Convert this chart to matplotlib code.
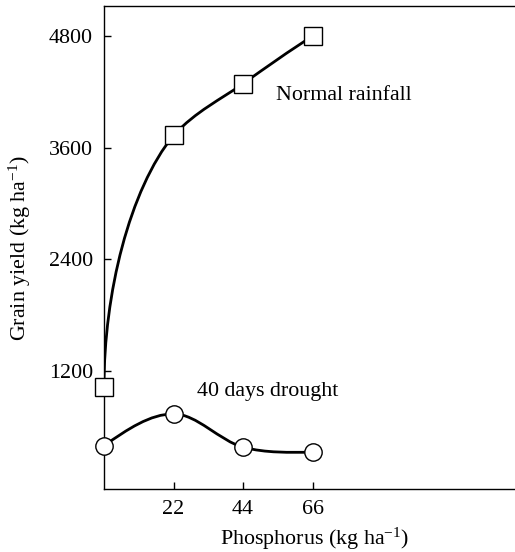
import numpy as np
import matplotlib
matplotlib.use("Agg")
import matplotlib.pyplot as plt
from matplotlib.path import Path
from matplotlib.patches import PathPatch

plt.rcParams["font.family"] = ["Liberation Serif", "DejaVu Serif"]
plt.rcParams["mathtext.fontset"] = "custom"
plt.rcParams["mathtext.rm"] = "Liberation Serif"
plt.rcParams["mathtext.it"] = "Liberation Serif:italic"

# data
phosphorus = [0, 22, 44, 66]
normal_yield = [1030, 3735, 4290, 4800]
drought_yield = [395, 738, 380, 325]
# tangent slopes of the smooth curves (kg grain per kg P), (in, out) at each point
# None = vertical start
normal_slopes = [(None, None), (42, 36), (24, 24), (21, 21)]
drought_slopes = [(24, 24), (0, 0), (-9, -9), (0, 0)]
yticks = [1200, 2400, 3600, 4800]
xticks = [22, 44, 66]


def smooth_path(xs, ys, slopes, rise=1000, reach=14):
    verts = [(xs[0], ys[0])]
    codes = [Path.MOVETO]
    for i in range(len(xs) - 1):
        dx = xs[i + 1] - xs[i]
        s_out = slopes[i][1]
        s_in = slopes[i + 1][0]
        if s_out is None:
            c1 = (xs[i], ys[i] + rise)
            d2 = reach
        else:
            c1 = (xs[i] + dx / 3, ys[i] + s_out * dx / 3)
            d2 = dx / 3
        c2 = (xs[i + 1] - d2, ys[i + 1] - s_in * d2)
        verts += [c1, c2, (xs[i + 1], ys[i + 1])]
        codes += [Path.CURVE4] * 3
    return Path(verts, codes)


fs = 15.8
fig = plt.figure(figsize=(5.15, 5.52), dpi=100)
ax = fig.add_axes([104 / 515, 63 / 552, 411 / 515, 483 / 552])

for xs, ys, sl in [(phosphorus, normal_yield, normal_slopes),
                   (phosphorus, drought_yield, drought_slopes)]:
    ax.add_patch(PathPatch(smooth_path(xs, ys, sl), fill=False,
                           lw=2.0, ec="black", zorder=2))

ax.plot(phosphorus, normal_yield, ls="none", marker="s", ms=12.5,
        mfc="white", mec="black", mew=1.0, zorder=3, clip_on=False)
ax.plot(phosphorus, drought_yield, ls="none", marker="o", ms=12.5,
        mfc="white", mec="black", mew=1.0, zorder=3, clip_on=False)

ax.text(54.5, 4160, "Normal rainfall", fontsize=fs, va="center", ha="left")
ax.text(29.5, 975, "40 days drought", fontsize=fs, va="center", ha="left")

ax.set_xlim(0, 130)
ax.set_ylim(-70, 5125)
ax.set_xticks(xticks)
ax.set_yticks(yticks)
ax.tick_params(direction="in", length=5, width=1.0, labelsize=fs, pad=8)
ax.spines["right"].set_visible(False)
for s in ["left", "bottom", "top"]:
    ax.spines[s].set_linewidth(1.0)

ax.set_xlabel("Phosphorus (kg ha$^{\\mathrm{-1}}$)", fontsize=fs)
ax.xaxis.set_label_coords(0.513, -0.076)
ax.set_ylabel("Grain yield (kg ha$^{\\mathrm{-1}}$)", fontsize=fs)
ax.yaxis.set_label_coords(-0.173, 0.5)

fig.savefig("out.png", dpi=100)
